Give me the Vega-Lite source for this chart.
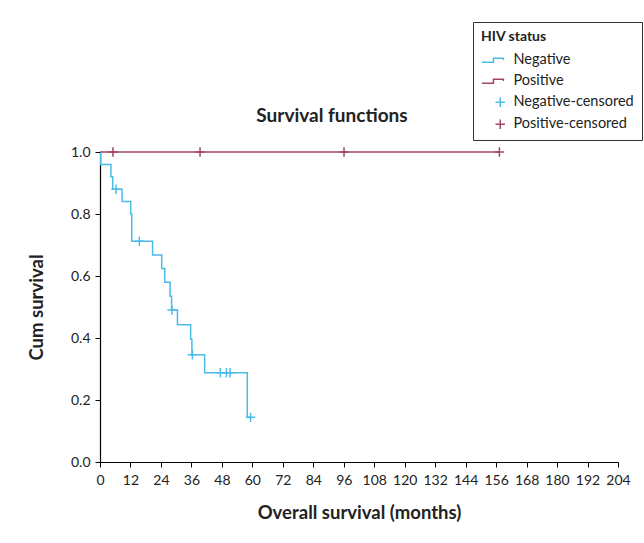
{
  "$schema": "https://vega.github.io/schema/vega-lite/v6.json",
  "width": 518,
  "height": 310,
  "autosize": "none",
  "padding": {"left": 100, "top": 152, "right": 26, "bottom": 81},
  "background": "white",
  "config": {
    "font": "Lato",
    "view": {"stroke": null},
    "axis": {"domainColor": "#000000", "tickColor": "#000000", "labelColor": "#222222", "titleColor": "#222222", "grid": false, "labelFont": "Lato", "titleFont": "Lato"}
  },
  "title": {
    "text": "Survival functions",
    "font": "Lato",
    "fontSize": 19,
    "fontWeight": "bold",
    "color": "#222222",
    "anchor": "middle",
    "dx": -27,
    "offset": -104
  },
  "datasets": {
    "curves": [
      {"series": "Negative", "time": 0, "surv": 1.0},
      {"series": "Negative", "time": 0.3, "surv": 0.96},
      {"series": "Negative", "time": 4.3, "surv": 0.92},
      {"series": "Negative", "time": 5.0, "surv": 0.88},
      {"series": "Negative", "time": 8.7, "surv": 0.84},
      {"series": "Negative", "time": 12.1, "surv": 0.80},
      {"series": "Negative", "time": 12.5, "surv": 0.712},
      {"series": "Negative", "time": 20.7, "surv": 0.668},
      {"series": "Negative", "time": 24.3, "surv": 0.624},
      {"series": "Negative", "time": 25.5, "surv": 0.58},
      {"series": "Negative", "time": 27.6, "surv": 0.535},
      {"series": "Negative", "time": 28.2, "surv": 0.49},
      {"series": "Negative", "time": 30.5, "surv": 0.443},
      {"series": "Negative", "time": 35.7, "surv": 0.396},
      {"series": "Negative", "time": 36.2, "surv": 0.346},
      {"series": "Negative", "time": 41.2, "surv": 0.288},
      {"series": "Negative", "time": 58.0, "surv": 0.144},
      {"series": "Negative", "time": 59.3, "surv": 0.144},
      {"series": "Positive", "time": 0, "surv": 1.0},
      {"series": "Positive", "time": 157.3, "surv": 1.0}
    ],
    "censored": [
      {"series": "Negative-censored", "time": 6.3, "surv": 0.88},
      {"series": "Negative-censored", "time": 15.5, "surv": 0.712},
      {"series": "Negative-censored", "time": 28.4, "surv": 0.49},
      {"series": "Negative-censored", "time": 36.4, "surv": 0.346},
      {"series": "Negative-censored", "time": 47.4, "surv": 0.288},
      {"series": "Negative-censored", "time": 49.8, "surv": 0.288},
      {"series": "Negative-censored", "time": 51.2, "surv": 0.288},
      {"series": "Negative-censored", "time": 59.3, "surv": 0.144},
      {"series": "Positive-censored", "time": 5.1, "surv": 1.0},
      {"series": "Positive-censored", "time": 39.4, "surv": 1.0},
      {"series": "Positive-censored", "time": 96.1, "surv": 1.0},
      {"series": "Positive-censored", "time": 157.3, "surv": 1.0}
    ]
  },
  "encoding": {
    "x": {
      "field": "time",
      "type": "quantitative",
      "scale": {"domain": [0, 204], "nice": false, "zero": true},
      "axis": {
        "values": [0, 12, 24, 36, 48, 60, 72, 84, 96, 108, 120, 132, 144, 156, 168, 180, 192, 204],
        "title": "Overall survival (months)",
        "titleFontSize": 18.5,
        "titleFontWeight": "bold",
        "titlePadding": 16,
        "labelFontSize": 14,
        "labelPadding": 6,
        "labelOverlap": false,
        "labelFlush": false,
        "tickSize": 5,
        "domainWidth": 1.2
      }
    },
    "y": {
      "field": "surv",
      "type": "quantitative",
      "scale": {"domain": [0, 1], "nice": false},
      "axis": {
        "values": [0, 0.2, 0.4, 0.6, 0.8, 1.0],
        "format": ".1f",
        "title": "Cum survival",
        "titleFontSize": 18.5,
        "titleFontWeight": "bold",
        "titlePadding": 24,
        "labelFontSize": 14,
        "labelPadding": 5,
        "tickSize": 5,
        "domainWidth": 1.2
      }
    },
    "color": {
      "field": "series",
      "type": "nominal",
      "scale": {
        "domain": ["Negative", "Positive", "Negative-censored", "Positive-censored"],
        "range": ["#4dbbe8", "#a0466c", "#4dbbe8", "#a0466c"]
      },
      "legend": {
        "title": "HIV status",
        "orient": "none",
        "legendX": 373,
        "legendY": -130,
        "direction": "vertical",
        "strokeColor": "#333333",
        "fillColor": "white",
        "padding": 8,
        "titleFontSize": 14,
        "titleFontWeight": "bold",
        "titleColor": "#222222",
        "titlePadding": 9,
        "labelFontSize": 14.5,
        "labelColor": "#222222",
        "labelLimit": 200,
        "rowPadding": 6,
        "symbolSize": 110,
        "symbolOffset": 12,
        "labelOffset": 6,
        "symbolStrokeWidth": 1.5,
        "symbolFillColor": "transparent",
        "titleFont": "Lato",
        "labelFont": "Lato"
      }
    }
  },
  "layer": [
    {
      "data": {"name": "curves"},
      "mark": {"type": "line", "interpolate": "step-after", "strokeWidth": 1.5},
      "encoding": {
        "detail": {"field": "series"}
      }
    },
    {
      "data": {"name": "censored"},
      "mark": {"type": "point", "filled": false, "strokeWidth": 1.5, "size": 110, "opacity": 1},
      "encoding": {
        "shape": {
          "field": "series",
          "type": "nominal",
          "scale": {
            "domain": ["Negative", "Positive", "Negative-censored", "Positive-censored"],
            "range": [
              "M-3.5,0.4H-1.3V-0.4H0.6V-0.05",
              "M-3.5,0.4H-1.3V-0.4H0.6V-0.05",
              "M-0.9,0H0.9M0,-0.9V0.9",
              "M-0.9,0H0.9M0,-0.9V0.9"
            ]
          }
        }
      }
    }
  ]
}
